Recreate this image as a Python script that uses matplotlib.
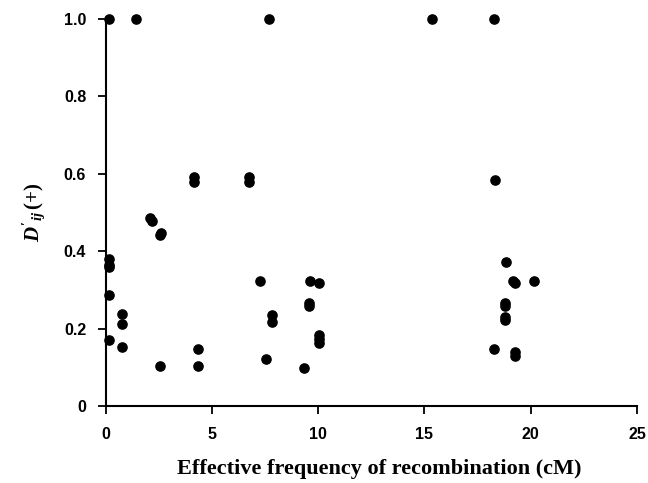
import matplotlib
matplotlib.use("Agg")
import matplotlib.pyplot as plt

# points (cM, D'ij(+))
recomb = [0.16, 1.45, 7.7, 15.35, 18.28,
          4.16, 4.16, 6.75, 6.75, 18.3,
          2.1, 2.18, 2.62, 2.54,
          0.16, 0.16, 0.16, 0.16, 0.16,
          0.76, 0.76, 0.76,
          2.57, 4.35, 4.35,
          7.26, 7.84, 7.84, 7.55,
          9.61, 9.55, 9.55, 10.06, 10.06, 10.06, 10.06, 9.35,
          18.86, 19.17, 19.27, 20.17, 18.77, 18.77, 18.77, 18.77,
          18.26, 19.27, 19.27]
d_ij = [1.0, 1.0, 1.0, 1.0, 1.0,
        0.593, 0.580, 0.593, 0.580, 0.585,
        0.486, 0.478, 0.447, 0.441,
        0.380, 0.365, 0.359, 0.288, 0.171,
        0.238, 0.213, 0.153,
        0.104, 0.147, 0.104,
        0.323, 0.235, 0.218, 0.121,
        0.323, 0.266, 0.259, 0.319, 0.184, 0.173, 0.164, 0.097,
        0.373, 0.323, 0.319, 0.323, 0.266, 0.259, 0.229, 0.222,
        0.147, 0.140, 0.130]

x_ticks = [0, 5, 10, 15, 20, 25]
y_ticks = [0, 0.2, 0.4, 0.6, 0.8, 1.0]
y_tick_labels = ["0", "0.2", "0.4", "0.6", "0.8", "1.0"]

plt.rcParams['mathtext.fontset'] = 'custom'
plt.rcParams['mathtext.it'] = 'Liberation Serif:bold:italic'
plt.rcParams['mathtext.rm'] = 'Liberation Serif:bold'

fig = plt.figure(figsize=(6.48, 4.83), dpi=100)
ax = fig.add_axes([0.163, 0.1594, 0.820, 0.8013])

ax.scatter(recomb, d_ij, s=44, color='black', zorder=3, clip_on=False)

ax.set_xlim(0, 25)
ax.set_ylim(0, 1.0)
ax.set_xticks(x_ticks)
ax.set_yticks(y_ticks)
ax.set_yticklabels(y_tick_labels)
for lab in ax.get_xticklabels() + ax.get_yticklabels():
    lab.set_fontfamily('Liberation Sans')
    lab.set_fontweight('bold')
    lab.set_fontsize(11.5)

ax.spines['top'].set_visible(False)
ax.spines['right'].set_visible(False)
ax.spines['left'].set_linewidth(1.5)
ax.spines['bottom'].set_linewidth(1.5)
ax.tick_params(direction='out', length=6, width=1.3)
ax.tick_params(axis='x', pad=9)
ax.tick_params(axis='y', pad=8)

ax.set_xlabel('Effective frequency of recombination (cM)', fontfamily='Liberation Serif',
              fontweight='bold', fontsize=16)
ax.xaxis.set_label_coords(0.515, -0.137)
ax.set_ylabel(r"$D'_{ij}\,(+)$", fontsize=15, labelpad=12)

fig.savefig('out.png', dpi=100)
